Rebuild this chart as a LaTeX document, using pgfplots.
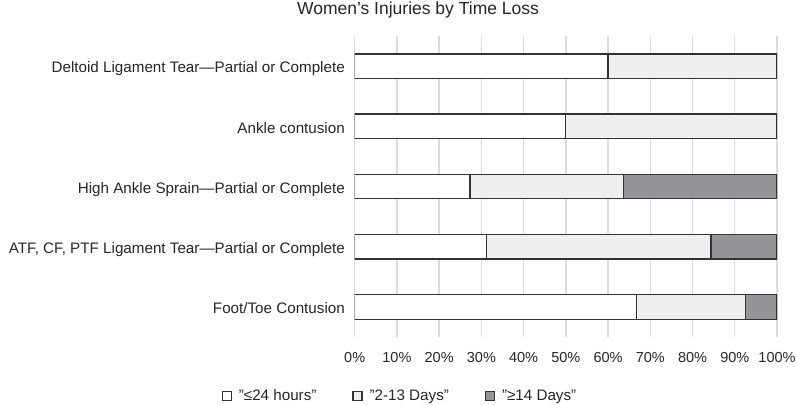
\documentclass[border=0pt]{standalone}
\usepackage{pgfplots}
\pgfplotsset{compat=1.18}
\usepackage{fontspec}
\setmainfont{Liberation Sans}
\definecolor{cA}{HTML}{FFFFFF}
\definecolor{cB}{HTML}{EEEFEE}
\definecolor{cC}{HTML}{939598}
\definecolor{gridc}{HTML}{DCDCDC}
\definecolor{edge}{HTML}{333333}
\definecolor{txt}{HTML}{262626}
\newcommand{\q}{\symbol{34}}
\begin{document}
\begin{tikzpicture}
\useasboundingbox (-354.7bp,-68bp) rectangle (442.3bp,337bp);
\begin{axis}[
  at={(0,0)}, anchor=south west,
  scale only axis, width=422.3bp, height=301bp,
  xbar stacked, bar width=24.5bp,
  xmin=0, xmax=100, ymin=0.5, ymax=5.5,
  axis line style={draw=none}, major tick length=0pt,
  xtick={0,10,...,100},
  xmajorgrids, grid style={draw=gridc, line width=1.4bp},
  ytick={1,2,3,4,5},
  yticklabels={Foot/Toe Contusion,{ATF, CF, PTF Ligament Tear—Partial or Complete},High Ankle Sprain—Partial or Complete,Ankle contusion,Deltoid Ligament Tear—Partial or Complete},
  /pgf/number format/assume math mode=true,
  xticklabel={\pgfmathprintnumber{\tick}\%},
  xticklabel style={anchor=base, yshift=-25.5bp, inner sep=0pt, font=\fontsize{14.5bp}{17bp}\selectfont, text=txt},
  yticklabel style={anchor=base east, inner sep=0pt, xshift=-9.7bp, yshift=-6.8bp, font=\fontsize{15.2bp}{18bp}\selectfont, text=txt},
  legend columns=3,
  legend style={at={(axis description cs:0.1073,-0.196)}, anchor=center, draw=none, fill=none, font=\fontsize{15.2bp}{18bp}\selectfont, text=txt, /tikz/every odd column/.append style={column sep=5bp}, /tikz/every even column/.append style={column sep=34bp}},
  legend image code/.code={\draw[#1, line width=1.1bp] (0bp,-4.5bp) rectangle (9bp,4.5bp);},
]
\addplot[fill=cA, draw=edge, line width=1.3bp] coordinates {(66.67,1) (31.25,2) (27.27,3) (50,4) (60,5)};
\addplot[fill=cB, draw=edge, line width=1.3bp] coordinates {(25.93,1) (53.125,2) (36.36,3) (50,4) (40,5)};
\addplot[fill=cC, draw=edge, line width=1.3bp] coordinates {(7.40,1) (15.625,2) (36.37,3) (0,4) (0,5)};
\legend{\q≤24 hours\q,\q2-13 Days\q,\q≥14 Days\q}
\end{axis}
\node[anchor=base, inner sep=0pt, text=txt, font=\fontsize{17.5bp}{20bp}\selectfont] at (63.3bp,322bp) {Women\symbol{39}s Injuries by Time Loss};
\end{tikzpicture}
\end{document}
